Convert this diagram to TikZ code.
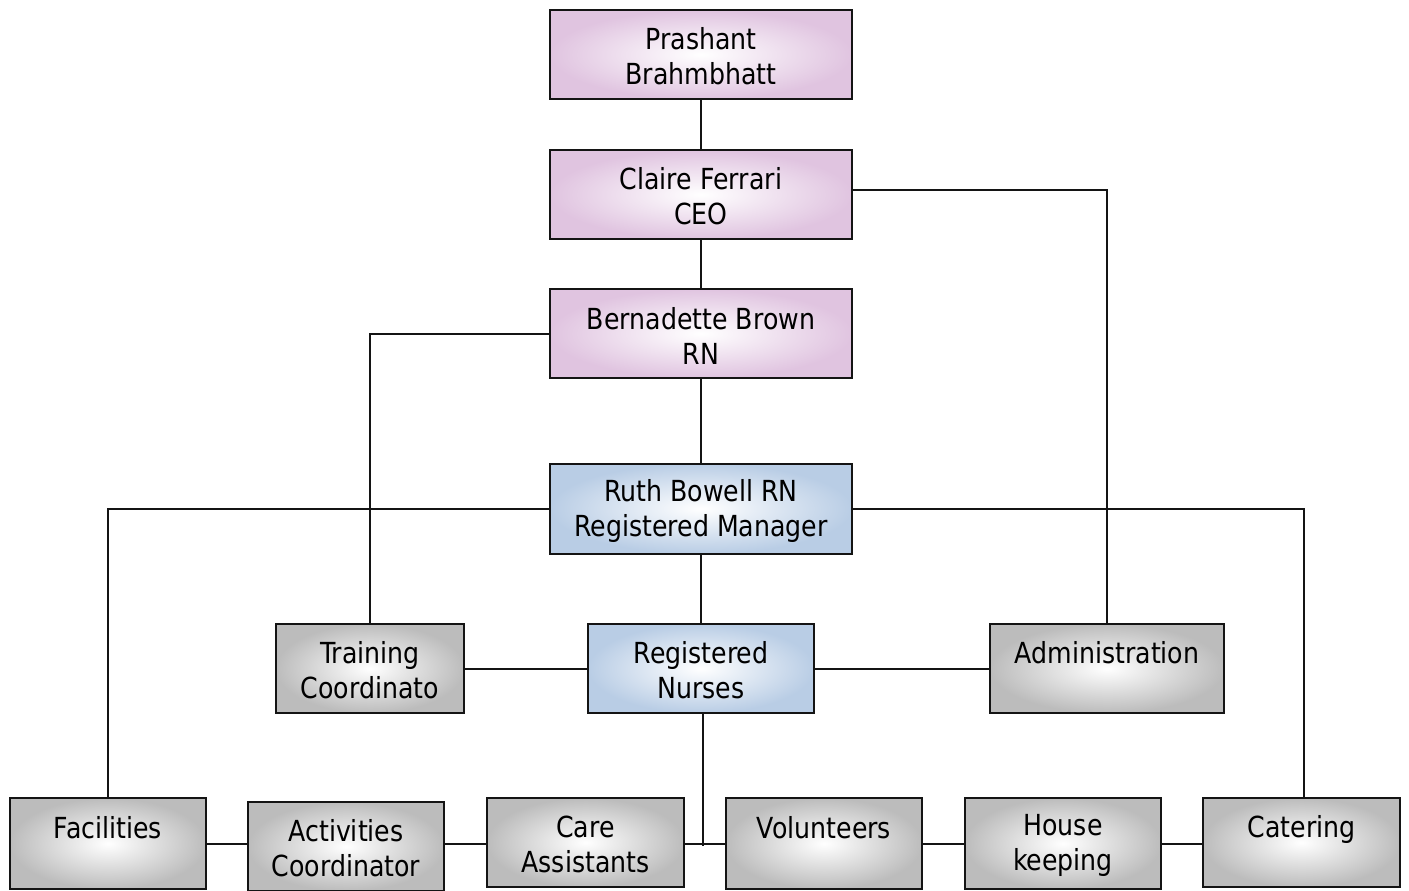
\documentclass[tikz,border=0pt]{standalone}
\usepackage{fontspec}
\setmainfont{DejaVu Sans}[FakeStretch=0.87]
\usetikzlibrary{calc}
\definecolor{pinkC}{RGB}{224,196,224}
\definecolor{blueC}{RGB}{185,205,229}
\definecolor{grayC}{RGB}{188,188,188}
\definecolor{lineC}{RGB}{20,20,20}
\tikzset{
  box/.style={draw=lineC, line width=2pt, inner sep=0pt, shading=radial, inner color=white},
  pinkbox/.style={box, outer color=pinkC},
  bluebox/.style={box, outer color=blueC},
  graybox/.style={box, outer color=grayC},
  txt/.style={inner sep=0pt, align=center, font=\fontsize{29}{35}\selectfont},
  conn/.style={draw=lineC, line width=2pt},
}
% #1 style, #2 name, #3 position, #4 width, #5 height, #6 text shift, #7 text
\newcommand\orgbox[7]{%
  \node[#1, minimum width=#4, minimum height=#5] (#2) at (#3) {};
  \node[txt] (#2-t) at ([yshift=#6]#2.center) {#7};}
\begin{document}
\begin{tikzpicture}[x=1pt, y=-1pt]
\useasboundingbox[fill=white] (0,0) rectangle (1409,891);
% top chain
\orgbox{pinkbox}{pb}{701,54.5}{302}{89}{-2pt}{Prashant\\Brahmbhatt}
\orgbox{pinkbox}{cf}{701,194.5}{302}{89}{-2pt}{Claire Ferrari\\CEO}
\orgbox{pinkbox}{bb}{701,333.5}{302}{89}{-2pt}{Bernadette Brown\\RN}
\orgbox{bluebox}{rb}{701,508.5}{302}{90}{-2pt}{Ruth Bowell RN\\Registered Manager}
% middle row
\orgbox{graybox}{tc}{370,668.5}{188}{89}{-2pt}{Training\\Coordinato}
\orgbox{bluebox}{rn}{701,668.5}{226}{89}{-2pt}{Registered\\Nurses}
\orgbox{graybox}{ad}{1107,668.5}{234}{89}{-7pt}{Administration\\\strut}
% bottom row
\orgbox{graybox}{fa}{108,843.5}{196}{91}{-7pt}{Facilities\\\strut}
\orgbox{graybox}{ac}{346,846.5}{196}{89}{-2pt}{Activities\\Coordinator}
\orgbox{graybox}{ca}{585.5,842.5}{197}{89}{-2pt}{Care\\Assistants}
\orgbox{graybox}{vo}{824,843.5}{196}{91}{-7pt}{Volunteers\\\strut}
\orgbox{graybox}{hk}{1063,843.5}{196}{91}{-2pt}{House\\keeping}
\orgbox{graybox}{ct}{1301.5,842.5}{197}{89}{-7pt}{Catering\\\strut}
% connectors
\coordinate (ch) at (0,844);
\coordinate (rnb) at ([xshift=2pt]rn.south);
\coordinate (ctn) at ([xshift=2.5pt]ct.north);
\coordinate (cfe) at ([yshift=4.5pt]cf.east);
\draw[conn] (pb.south) -- (cf.north);
\draw[conn] (cf.south) -- (bb.north);
\draw[conn] (bb.south) -- (rb.north);
\draw[conn] (rb.south) -- (rn.north);
\draw[conn] (cfe) -| (ad.north);
\draw[conn] (bb.west) -| (tc.north);
\draw[conn] (rb.west) -| (fa.north);
\draw[conn] (rb.east) -| (ctn);
\draw[conn] (tc.east) -- (rn.west);
\draw[conn] (rn.east) -- (ad.west);
\draw[conn] (rnb) -- ([yshift=-2pt]rnb |- ch);
\draw[conn] (fa.east |- ch) -- (ac.west |- ch);
\draw[conn] (ac.east |- ch) -- (ca.west |- ch);
\draw[conn] (ca.east |- ch) -- (vo.west |- ch);
\draw[conn] (vo.east |- ch) -- (hk.west |- ch);
\draw[conn] (hk.east |- ch) -- (ct.west |- ch);
\end{tikzpicture}
\end{document}
